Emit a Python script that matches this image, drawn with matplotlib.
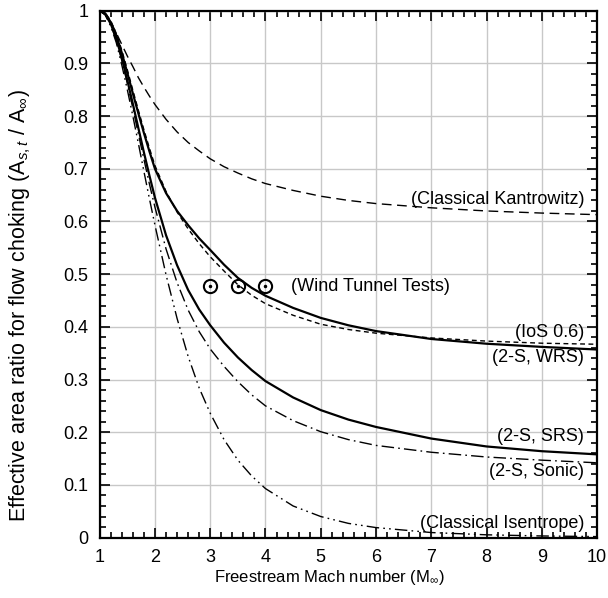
import matplotlib
matplotlib.use('Agg')
import matplotlib.pyplot as plt
from matplotlib.ticker import MultipleLocator, FuncFormatter

plt.rcParams['font.family'] = ['Liberation Sans', 'DejaVu Sans']
plt.rcParams['mathtext.fontset'] = 'custom'
plt.rcParams['mathtext.rm'] = 'Liberation Sans'
plt.rcParams['mathtext.it'] = 'Liberation Sans:italic'

# freestream Mach numbers
mach = [1, 1.1, 1.2, 1.3, 1.4, 1.5, 1.6, 1.7, 1.8, 1.9, 2.0, 2.2, 2.4, 2.6, 2.8, 3.0,
        3.25, 3.5, 3.75, 4, 4.5, 5, 5.5, 6, 7, 8, 9, 10]

kantrowitz = [1.0, 0.993, 0.978, 0.958, 0.936, 0.914, 0.894, 0.873, 0.855, 0.838, 0.822,
              0.794, 0.770, 0.750, 0.734, 0.719, 0.704, 0.692, 0.681, 0.672, 0.659, 0.648,
              0.640, 0.634, 0.626, 0.620, 0.616, 0.613]
ios06 = [1.0, 0.996, 0.981, 0.957, 0.925, 0.888, 0.849, 0.811, 0.774, 0.739, 0.706,
         0.657, 0.618, 0.586, 0.558, 0.533, 0.506, 0.480, 0.460, 0.444, 0.422, 0.405,
         0.395, 0.388, 0.379, 0.373, 0.369, 0.367]
wrs = [1.0, 0.995, 0.978, 0.953, 0.920, 0.882, 0.843, 0.805, 0.768, 0.733, 0.700,
       0.654, 0.620, 0.593, 0.568, 0.546, 0.518, 0.493, 0.474, 0.459, 0.436, 0.417,
       0.403, 0.392, 0.377, 0.368, 0.362, 0.357]
srs = [1.0, 0.994, 0.975, 0.947, 0.910, 0.868, 0.823, 0.777, 0.731, 0.687, 0.645,
       0.574, 0.517, 0.470, 0.433, 0.403, 0.370, 0.342, 0.318, 0.297, 0.266, 0.242,
       0.224, 0.210, 0.188, 0.173, 0.164, 0.158]
sonic = [1.0, 0.993, 0.973, 0.944, 0.906, 0.862, 0.815, 0.766, 0.718, 0.671, 0.627,
         0.548, 0.484, 0.432, 0.391, 0.358, 0.325, 0.296, 0.271, 0.250, 0.222, 0.201,
         0.186, 0.175, 0.162, 0.153, 0.147, 0.142]
isentrope = [1.0, 0.992, 0.9705, 0.9395, 0.897, 0.850, 0.800, 0.748, 0.695, 0.643, 0.593,
             0.499, 0.416, 0.344, 0.284, 0.236, 0.186, 0.147, 0.117, 0.093, 0.060, 0.040,
             0.027, 0.019, 0.0096, 0.0053, 0.0031, 0.0019]

# wind tunnel tests
wt_mach = [3, 3.5, 4]
wt_ratio = [0.477, 0.477, 0.477]

fig = plt.figure(figsize=(6.08, 5.98), dpi=100)
ax = fig.add_axes([0.164, 0.101, 0.818, 0.881])

ax.plot(mach, kantrowitz, color='black', lw=1.0, dashes=(7, 4))
ax.plot(mach, ios06, color='black', lw=1.0, dashes=(3.5, 2.5))
ax.plot(mach, wrs, color='black', lw=1.6)
ax.plot(mach, srs, color='black', lw=1.6)
ax.plot(mach, sonic, color='black', lw=1.0, dashes=(9, 3, 1.2, 3))
ax.plot(mach, isentrope, color='black', lw=1.0, dashes=(9, 3, 1.2, 3, 1.2, 3))

ax.plot(wt_mach, wt_ratio, ls='none', marker='o', ms=9.5, mfc='none', mec='black', mew=1.5)
ax.plot(wt_mach, wt_ratio, ls='none', marker='o', ms=1.5, color='black')

fs = 13
ax.text(9.77, 0.642, '(Classical Kantrowitz)', ha='right', va='center', fontsize=fs)
ax.text(4.47, 0.476, '(Wind Tunnel Tests)', ha='left', va='center', fontsize=fs)
ax.text(9.77, 0.389, '(IoS 0.6)', ha='right', va='center', fontsize=fs)
ax.text(9.77, 0.341, '(2-S, WRS)', ha='right', va='center', fontsize=fs)
ax.text(9.77, 0.191, '(2-S, SRS)', ha='right', va='center', fontsize=fs)
ax.text(9.77, 0.125, '(2-S, Sonic)', ha='right', va='center', fontsize=fs)
ax.text(9.77, 0.026, '(Classical Isentrope)', ha='right', va='center', fontsize=fs)

ax.set_xlim(1, 10)
ax.set_ylim(0, 1)
ax.xaxis.set_major_locator(MultipleLocator(1))
ax.xaxis.set_minor_locator(MultipleLocator(0.2))
ax.yaxis.set_major_locator(MultipleLocator(0.1))
ax.yaxis.set_minor_locator(MultipleLocator(0.02))
ax.yaxis.set_major_formatter(FuncFormatter(lambda v, p: '%g' % round(v, 2)))
ax.tick_params(which='both', direction='in', top=True, right=True, labelsize=fs, width=1.2)
ax.tick_params(which='major', length=7, pad=8)
ax.tick_params(which='minor', length=4)
ax.grid(True, which='major', color='#c8c8c8', lw=1.0)
ax.set_axisbelow(True)
for s in ax.spines.values():
    s.set_linewidth(1.6)

ax.set_xlabel(r'Freestream Mach number (M$_{\infty}$)', fontsize=12)
ax.set_ylabel(r'Effective area ratio for flow choking (A$_{s,t}$ / A$_{\infty}$)', fontsize=15.5)
ax.xaxis.set_label_coords(0.462, -0.058)
ax.yaxis.set_label_coords(-0.135, 0.44)

fig.savefig('out.png', dpi=100)
